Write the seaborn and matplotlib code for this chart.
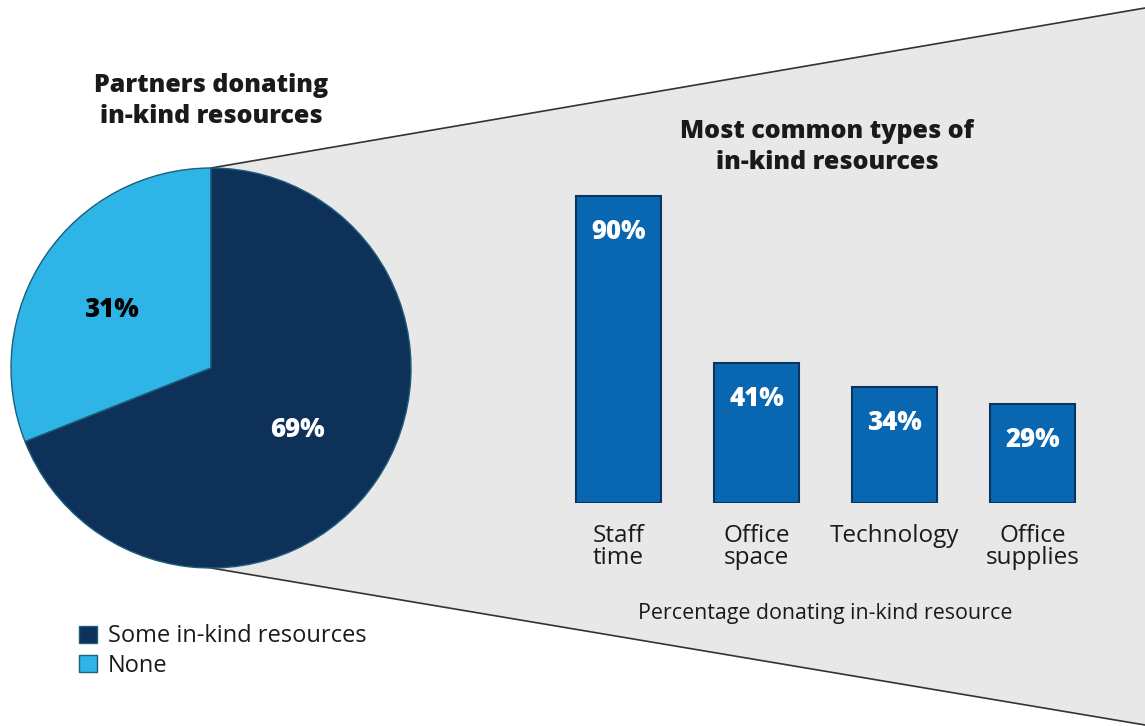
import matplotlib
matplotlib.use("Agg")
import matplotlib.pyplot as plt
import seaborn as sns
from matplotlib.patches import Polygon, Patch

# data
pie_labels = ["None", "Some in-kind resources"]
pie_values = [31, 69]
pie_colors = ["#2EB4E6", "#0E315A"]

resource_types = ["Staff\ntime", "Office\nspace", "Technology", "Office\nsupplies"]
resource_pct = [90, 41, 34, 29]

sns.set_theme(style="white")
plt.rcParams["font.family"] = ["Open Sans", "DejaVu Sans"]
plt.rcParams["text.color"] = "#1A1A1A"
plt.rcParams["xtick.color"] = "#1A1A1A"
plt.rcParams["axes.labelcolor"] = "#1A1A1A"

W, H = 1145, 726
fig = plt.figure(figsize=(W / 100, H / 100), dpi=100)
fig.patch.set_facecolor("white")

# grey "zoom" wedge in the background (pixel coords)
bg = fig.add_axes([0, 0, 1, 1])
bg.set_xlim(0, W)
bg.set_ylim(H, 0)
bg.axis("off")
bg.add_patch(Polygon([(211, 168), (1145, 8), (1145, 725), (211, 568)],
                     closed=True, facecolor="#E8E8E8", edgecolor="none", zorder=0))
bg.plot([211, 1145], [168, 8], color="#333333", lw=1.2)
bg.plot([211, 1145], [568, 725], color="#333333", lw=1.2)

# pie
cx, cy, r = 211, 368, 200
ax_pie = fig.add_axes([(cx - r) / W, (H - cy - r) / H, 2 * r / W, 2 * r / H])
wedges, _ = ax_pie.pie(pie_values, colors=pie_colors, startangle=90, counterclock=True,
                       wedgeprops=dict(edgecolor="#1D5E7A", linewidth=1.0))
ax_pie.set_xlim(-1, 1)
ax_pie.set_ylim(-1, 1)
ax_pie.set_aspect("equal")
ax_pie.text(-0.5, 0.29, f"{pie_values[0]}%", ha="center", va="center",
            fontsize=18.5, fontweight="heavy", color="black")
ax_pie.text(0.43, -0.31, f"{pie_values[1]}%", ha="center", va="center",
            fontsize=18.5, fontweight="heavy", color="white")

fig.text(cx / W, 1 - 101 / H, "Partners donating\nin-kind resources", ha="center", va="center",
         fontsize=18, fontweight="heavy", linespacing=1.32)

leg = fig.legend(handles=[Patch(facecolor=pie_colors[1], edgecolor="#1D5E7A"),
                          Patch(facecolor=pie_colors[0], edgecolor="#1D5E7A")],
                 labels=[pie_labels[1], pie_labels[0]],
                 loc="upper left", bbox_to_anchor=(70 / W, 1 - 615 / H),
                 frameon=False, fontsize=17, handlelength=0.75, handleheight=0.75,
                 handletextpad=0.45, labelspacing=0.22, borderaxespad=0)

# bars
step = 138
x0 = 618.5 - step / 2
base = 503
ax_bar = fig.add_axes([x0 / W, (H - base) / H, 4 * step / W, 341 / H])
sns.barplot(x=resource_types, y=resource_pct, ax=ax_bar, color="#0967B1",
            edgecolor="#0B3560", linewidth=1.5, width=0.62, saturation=1)
ax_bar.set_xlim(-0.5, 3.5)
ax_bar.set_ylim(0, 100)
ax_bar.patch.set_alpha(0)
sns.despine(ax=ax_bar, left=True, bottom=True)
ax_bar.set_yticks([])
ax_bar.tick_params(axis="x", length=0, pad=15, labelsize=17.5)
for lab in ax_bar.get_xticklabels():
    lab.set_linespacing(0.88)
for i, v in enumerate(resource_pct):
    ax_bar.text(i, v - 10.5, f"{v}%", ha="center", va="center",
                fontsize=18.5, fontweight="heavy", color="white")
ax_bar.set_xlabel("Percentage donating in-kind resource", fontsize=15.4, labelpad=24)
ax_bar.set_ylabel("")

fig.text(827 / W, 1 - 147 / H, "Most common types of\nin-kind resources", ha="center", va="center",
         fontsize=18, fontweight="heavy", linespacing=1.32)

fig.savefig("out.png", dpi=100)
